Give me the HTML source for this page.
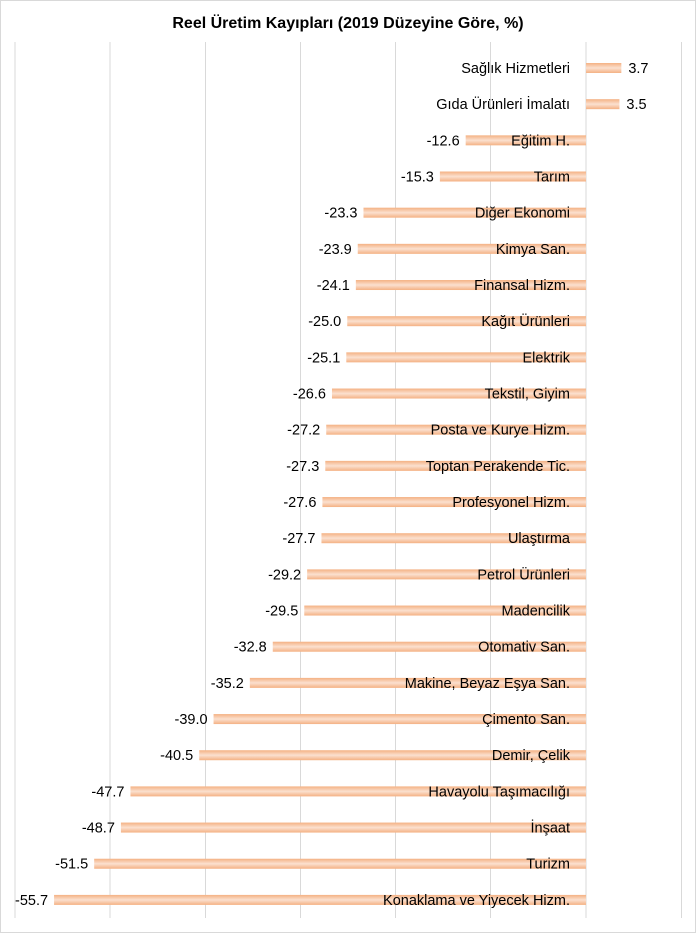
<!DOCTYPE html>
<html><head><meta charset="utf-8"><style>
body{margin:0;background:#fff}
svg{display:block;font-family:"Liberation Sans",sans-serif}
</style></head><body>
<svg width="696" height="933" xmlns="http://www.w3.org/2000/svg">
<defs><linearGradient id="g" x1="0" y1="0" x2="0" y2="1">
<stop offset="0" stop-color="#f4b183"/><stop offset="0.5" stop-color="#fbe0cf"/><stop offset="1" stop-color="#f4b183"/></linearGradient></defs>
<rect x="0.5" y="0.5" width="695" height="932" fill="#fff" stroke="#d9d9d9"/>
<text x="348" y="28" text-anchor="middle" font-size="16" font-weight="bold" fill="#000">Reel Üretim Kayıpları (2019 Düzeyine Göre, %)</text>
<g stroke="#d9d9d9" stroke-width="1">
<line x1="15" y1="42" x2="15" y2="918"/><line x1="110" y1="42" x2="110" y2="918"/>
<line x1="205.5" y1="42" x2="205.5" y2="918"/><line x1="300.5" y1="42" x2="300.5" y2="918"/>
<line x1="395.5" y1="42" x2="395.5" y2="918"/><line x1="490.5" y1="42" x2="490.5" y2="918"/>
<line x1="586" y1="42" x2="586" y2="918"/><line x1="681.5" y1="42" x2="681.5" y2="918"/>
</g>
<g id="bars" font-size="14.5" fill="#000"></g>
</svg>
<script>
var d=[["Sağlık Hizmetleri",3.7],["Gıda Ürünleri İmalatı",3.5],["Eğitim H.",-12.6],["Tarım",-15.3],["Diğer Ekonomi",-23.3],["Kimya San.",-23.9],["Finansal Hizm.",-24.1],["Kağıt Ürünleri",-25.0],["Elektrik",-25.1],["Tekstil, Giyim",-26.6],["Posta ve Kurye Hizm.",-27.2],["Toptan Perakende Tic.",-27.3],["Profesyonel Hizm.",-27.6],["Ulaştırma",-27.7],["Petrol Ürünleri",-29.2],["Madencilik",-29.5],["Otomativ San.",-32.8],["Makine, Beyaz Eşya San.",-35.2],["Çimento San.",-39.0],["Demir, Çelik",-40.5],["Havayolu Taşımacılığı",-47.7],["İnşaat",-48.7],["Turizm",-51.5],["Konaklama ve Yiyecek Hizm.",-55.7]];
var g=document.getElementById('bars'),s='',z=586,k=9.55;
d.forEach(function(r,i){var y=68+i*36.17,v=r[1],w=Math.abs(v)*k,x=v<0?z-w:z;
s+='<rect x="'+x+'" y="'+(y-5)+'" width="'+w+'" height="10" fill="url(#g)"/>';
s+='<text x="570" y="'+(y+5)+'" text-anchor="end">'+r[0]+'</text>';
var t=v.toFixed(1);
if(v<0)s+='<text x="'+(x-6)+'" y="'+(y+5)+'" text-anchor="end">'+t+'</text>';
else s+='<text x="'+(x+w+7)+'" y="'+(y+5)+'">'+t+'</text>';});
g.innerHTML=s;
</script>
</body></html>
